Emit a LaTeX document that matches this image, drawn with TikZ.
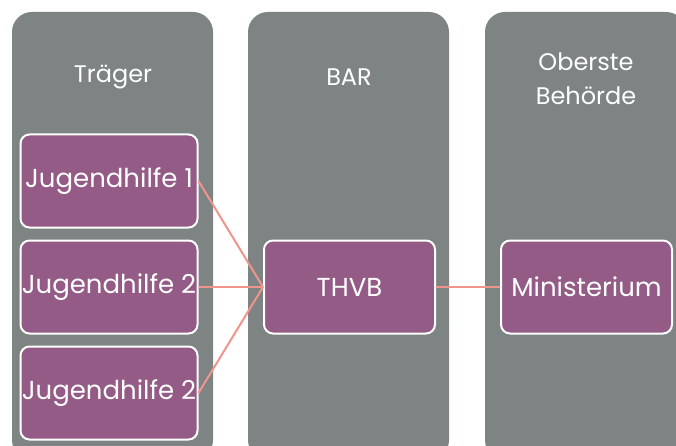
\documentclass[tikz,border=0pt]{standalone}
\usepackage{fontspec}
\setmainfont{Poppins}
\definecolor{colgray}{HTML}{7E8384}
\definecolor{boxpurple}{HTML}{935B86}
\definecolor{linkred}{HTML}{F0948C}
\begin{document}
\begin{tikzpicture}[x=1pt,y=-1pt,
  column/.style={fill=colgray, rounded corners=20pt},
  unit/.style={draw=white, line width=2pt, fill=boxpurple, rounded corners=9pt,
     minimum width=177pt, minimum height=93pt, inner sep=0pt, text=white,
     font=\fontsize{26}{30}\selectfont},
  title/.style={text=white, font=\fontsize{24}{34}\selectfont, align=center},
  link/.style={draw=linkred, line width=2pt}]
\useasboundingbox (0,0) rectangle (676,446);
\clip (0,0) rectangle (676,446);
\fill[white] (0,0) rectangle (676,446);
\fill[column] (12,12) rectangle (213,460);
\fill[column] (248,12) rectangle (449,460);
\fill[column] (485,12) rectangle (686,460);
\node[title] (t1) at (113,77) {Träger};
\node[title] (t2) at (349,77) {BAR};
\node[title] (t3) at (586,79) {Oberste\\Behörde};
\node[unit] (j1) at (109,181) {Jugendhilfe 1};
\node[unit] (j2) at (109,287) {Jugendhilfe 2};
\node[unit] (j3) at (109,393) {Jugendhilfe 2};
\node[unit, minimum width=171pt] (th) at (349.5,287) {THVB};
\node[unit, minimum width=171pt] (mi) at (586.5,287) {Ministerium};
\draw[link] (j1.east) -- (th.west);
\draw[link] (j2.east) -- (th.west);
\draw[link] (j3.east) -- (th.west);
\draw[link] (th.east) -- (mi.west);
\end{tikzpicture}
\end{document}
